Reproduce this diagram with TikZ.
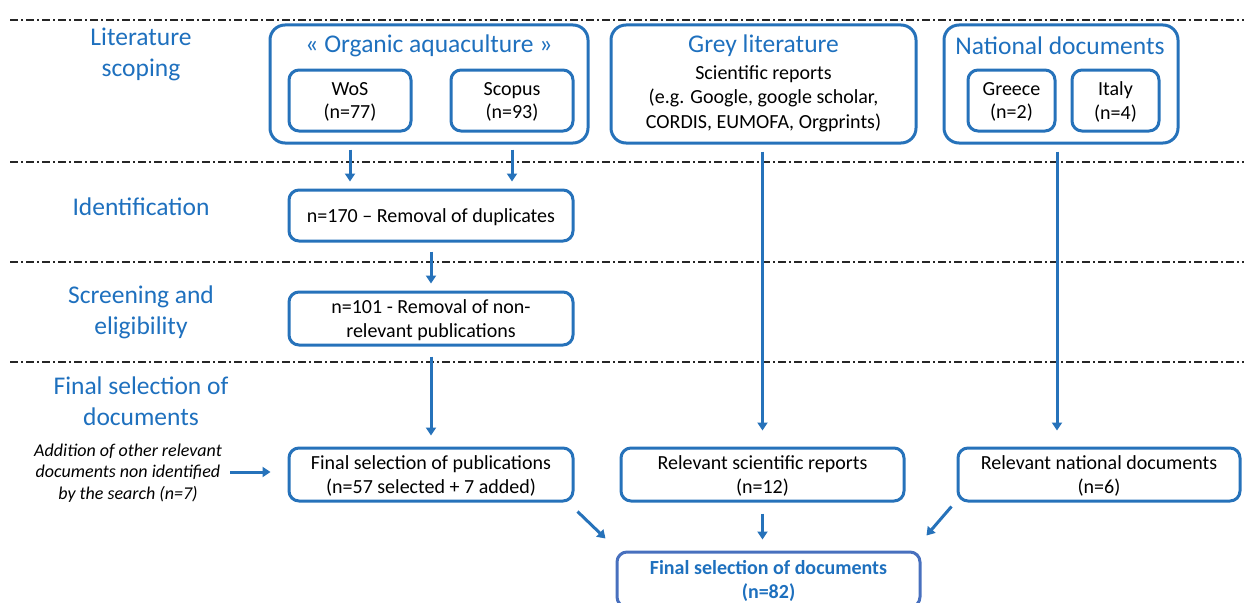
\documentclass[tikz,border=0pt]{standalone}
\usepackage{fontspec}
\setmainfont{Carlito}
\usetikzlibrary{arrows.meta}
\definecolor{flowblue}{RGB}{38,114,186}
\definecolor{finalblue}{RGB}{72,112,190}
\definecolor{headblue}{RGB}{30,112,190}

\begin{document}
\begin{tikzpicture}[x=1pt, y=-1pt,
  box/.style={draw=flowblue, line width=3pt, rounded corners=10pt, align=center, inner sep=0pt,
    text depth=0pt, font=\fontsize{20}{23.5}\selectfont},
  group/.style={draw=flowblue, line width=3pt, rounded corners=15pt, inner sep=0pt},
  heading/.style={text=headblue, align=center, font=\fontsize{25.5}{31}\selectfont},
  body/.style={align=center, font=\fontsize{20}{24.5}\selectfont},
  note/.style={align=center, font=\fontsize{18}{21.5}\selectfont\itshape},
  arr/.style={draw=flowblue, line width=3pt, -{Triangle[width=10pt, length=8pt]}},
  sep/.style={draw=black!85, line width=1.3pt, dash pattern=on 8pt off 3pt on 2pt off 3pt}]
  \useasboundingbox (0,0) rectangle (1244,602);
  % phase separators
  \foreach \yy in {20, 162, 262, 362}
    \draw[sep] (10,\yy) -- (1244,\yy);
  % phase labels
  \node[heading] (lscope) at (141,54) {Literature\\scoping};
  \node[heading] (lident) at (141,207) {Identification};
  \node[heading] (lscreen) at (141,312) {Screening and\\eligibility};
  \node[heading] (lfinal) at (141,401) {Final selection of\\documents};
  % sources
  \node[group, minimum width=318pt, minimum height=118pt] (org) at (429,84) {};
  \node[heading] (orgtitle) at (429,46) {« Organic aquaculture »};
  \node[box, minimum width=122pt, minimum height=61pt] (wos) at (350,100.5) {WoS\\(n=77)};
  \node[box, minimum width=122pt, minimum height=61pt] (scopus) at (512,100.5) {Scopus\\(n=93)};
  \node[group, minimum width=305pt, minimum height=118pt] (grey) at (763.5,84) {};
  \node[heading] (greytitle) at (763.5,46) {Grey literature};
  \node[body] (greytext) at (763.5,98.5) {Scientific reports\\(e.g. Google, google scholar,\\CORDIS, EUMOFA, Orgprints)};
  \node[group, minimum width=234pt, minimum height=118pt] (national) at (1061,84) {};
  \node[heading] (nattitle) at (1060,46) {National documents};
  \node[box, minimum width=87pt, minimum height=61pt] (greece) at (1011.5,100.5) {Greece\\(n=2)};
  \node[box, minimum width=87pt, minimum height=61pt] (italy) at (1115.5,100.5) {Italy\\(n=4)};
  % screening steps
  \node[box, minimum width=284pt, minimum height=51pt] (ident) at (431,215.5) {n=170 -- Removal of duplicates};
  \node[box, minimum width=284pt, minimum height=53pt] (screen) at (431,318.5) {n=101 - Removal of non-\\relevant publications};
  \node[box, minimum width=284pt, minimum height=53pt] (finpub) at (431,474.5) {Final selection of publications\\(n=57 selected + 7 added)};
  \node[note] (addtext) at (128,473) {Addition of other relevant\\documents non identified\\by the search (n=7)};
  \node[box, minimum width=283pt, minimum height=53pt] (relsci) at (762.5,474.5) {Relevant scientific reports\\(n=12)};
  \node[box, minimum width=282pt, minimum height=53pt] (relnat) at (1099,474.5) {Relevant national documents\\(n=6)};
  \node[box, draw=finalblue, minimum width=303pt, minimum height=55pt, text=headblue,
    font=\fontsize{20}{24.5}\selectfont\bfseries] (findoc) at (768.5,579.5)
    {Final selection of documents\\(n=82)};
  % connectors
  \draw[arr] ([yshift=-5pt]org.south -| wos.south) -- ([yshift=7pt]ident.north -| wos.south);
  \draw[arr] ([yshift=-5pt]org.south -| scopus.south) -- ([yshift=7pt]ident.north -| scopus.south);
  \draw[arr] ([yshift=-9pt]ident.south) -- ([yshift=7pt]screen.north);
  \draw[arr] ([yshift=-10pt]screen.south) -- ([yshift=11pt]finpub.north);
  \draw[arr] ([yshift=-7pt]grey.south -| relsci.north) -- ([yshift=16pt]relsci.north);
  \draw[arr] ([yshift=-7pt]national.south -| 1057,0) -- ([yshift=16pt]relnat.north -| 1057,0);
  \draw[arr] ([xshift=5pt]addtext.east |- 0,472) -- ([xshift=-17pt]finpub.west |- 0,472);
  \draw[arr] ([shift={(3pt,-9pt)}]finpub.south east) -- ([shift={(-10pt,12pt)}]findoc.north west);
  \draw[arr] ([yshift=-11pt]relsci.south) -- ([yshift=11pt]findoc.north -| relsci.south);
  \draw[arr] ([shift={(-5pt,-4pt)}]relnat.south west) -- ([shift={(5pt,15pt)}]findoc.north east);
\end{tikzpicture}
\end{document}
